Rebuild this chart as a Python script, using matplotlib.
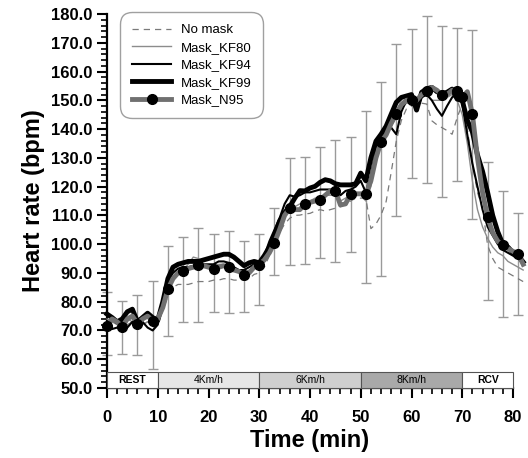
import matplotlib
matplotlib.use("Agg")
import matplotlib.pyplot as plt
from matplotlib.ticker import MultipleLocator, FormatStrFormatter
import numpy as np

plt.rcParams['font.family'] = ['Liberation Sans', 'DejaVu Sans']

time = list(range(0, 83))

no_mask = [74, 73, 72.5, 71, 72, 73, 71, 72, 73, 72, 73, 77, 82, 85, 86, 86, 86, 86.5, 87, 87,
           87, 87.5, 87.5, 88, 88, 87.5, 87.5, 87.5, 88, 89.5, 90, 92, 96, 100, 104, 107, 109, 110, 110.1, 110.5,
           110.7, 111.5, 112, 111.5, 112, 112.5, 113, 114, 115, 116, 116, 116, 105.4, 107, 110.1, 114.8, 125, 135.8, 143, 147,
           148, 148.5, 149, 148.7, 142.9, 141.5, 140.5, 139.5, 138.2, 144, 148.7, 140, 128, 118, 112.5, 99.6, 95, 92, 91, 90,
           89, 88, 87]

kf80 = [74, 73, 72, 71, 74, 73, 71, 72, 73, 74, 74, 79, 85, 88, 90, 91, 93, 95.5, 95, 93,
        92, 92, 93, 93, 92, 91, 90, 90, 91, 92, 92, 94, 98, 102, 107, 111, 113, 113, 114, 114,
        115, 116, 116, 117, 117, 117, 115, 116, 117, 118, 117, 115, 120, 130, 135, 138, 141, 144, 147, 149,
        149, 150, 151, 152, 150, 150, 150, 151, 152, 150, 145, 135, 122, 112, 106, 102, 99, 97, 96, 94,
        93, 92, 91]

kf94 = [73, 70.5, 71, 73, 71, 73, 74, 73, 71, 70, 72, 80, 87, 90, 91.5, 92, 92, 92.5, 93, 93,
        93, 93, 94, 94, 93.5, 92, 91, 91, 92, 93, 93, 96, 101, 105, 109, 114, 117, 116.5, 117, 118,
        118, 118.5, 119, 119, 119, 118.5, 117, 118.5, 119, 120, 122, 118, 124, 134, 137, 139.3, 140.5, 138.2, 146, 150,
        151, 146.4, 151, 152, 150, 147, 144.6, 148, 151, 152.5, 149, 138, 128, 120, 112, 106, 103, 100, 98, 97,
        96, 95, 94]

kf99 = [75.7, 74.5, 73, 74, 76.5, 77.4, 73, 74.5, 76, 74.5, 73.5, 80, 88, 92, 93, 93.5, 94, 94, 94, 94.5,
        95, 95.5, 96, 96.5, 96.5, 95.5, 94, 92.5, 93.5, 94, 93.5, 96, 99, 103, 108, 111, 113, 116, 118.6, 118.5,
        119.5, 120.1, 121.5, 122.4, 122, 121, 120.6, 120.6, 120.6, 121, 124.7, 122, 130, 135.8, 138.2, 141, 145.2, 149.3, 151, 151.5,
        152, 146.6, 152.8, 154, 154.5, 153, 152.2, 152.8, 153.9, 150.4, 150, 143, 139, 131, 125.3, 118, 110, 104.3, 100, 99,
        97, 96, 93.8]

n95 = [71.6, 74, 73, 71.3, 74, 75, 72.4, 74, 75, 73.4, 74, 78, 84.4, 88, 90, 90.6, 91.5, 92, 92.6, 92.5,
       92, 91.4, 92, 92.5, 92.0, 91, 90.5, 89.3, 90, 92, 92.9, 94.5, 97, 100.5, 105, 110, 112.5, 112, 112, 113.9,
       114.5, 115, 115.4, 117, 118.5, 118.6, 113.6, 114, 117.4, 117.5, 117.5, 117.4, 122, 130, 135.5, 138, 142, 145.4, 148.5, 150,
       150.1, 150, 152, 153.1, 154.5, 153.5, 151.8, 152, 153.5, 153.4, 151, 153, 145.2, 130, 118, 109.3, 104, 101, 99.6, 98.5,
       97.5, 96.7, 93]
n95_marker_idx = [0, 3, 6, 9, 12, 15, 18, 21, 24, 27, 30, 33, 36, 39, 42, 45, 48, 51, 54, 57, 60, 63, 66, 69, 70, 72, 75, 78, 81]

err_time = [0, 3, 6, 9, 12, 15, 18, 21, 24, 27, 30, 33, 36, 39, 42, 45, 48, 51, 54, 57, 60, 63, 66, 69, 72, 75, 78, 81]
err_top = [83.3, 80.1, 82.5, 87.1, 99.4, 102.6, 105.5, 103.4, 104.5, 101.2, 103.7, 112.6, 130.1, 130.4, 133.8, 136.3, 137.2, 146.2,
           156.4, 169.7, 174.7, 179.4, 175.8, 175.3, 174.6, 128.4, 118.6, 111.0]
err_bot = [61.6, 61.9, 61.5, 56.7, 68.2, 73.0, 73.0, 76.3, 75.9, 76.3, 78.9, 89.3, 92.8, 93.1, 95.1, 93.8, 97.3, 86.5,
           88.9, 109.9, 123.0, 121.3, 116.5, 121.8, 108.6, 80.6, 74.8, 75.5]

phase_labels = ['REST', '4Km/h', '6Km/h', '8Km/h', 'RCV']
phase_start = [0, 10, 30, 50, 70]
phase_end = [10, 30, 50, 70, 80]
phase_colors = ['#ffffff', '#e6e6e6', '#cfcfcf', '#a9a9a9', '#ffffff']
phase_bold = [True, False, False, False, True]

fig = plt.figure(figsize=(5.28, 4.58), dpi=100)
ax = fig.add_axes([107/528, 1 - 388/458, 406/528, 374/458])

# error bars
err_mid = [(a + b) / 2 for a, b in zip(err_top, err_bot)]
err_half = [(a - b) / 2 for a, b in zip(err_top, err_bot)]
eb = ax.errorbar(err_time, err_mid, yerr=err_half, fmt='none', ecolor='#9a9a9a',
                 elinewidth=1.0, capsize=3.5, capthick=1.0, zorder=1)
for art in eb.get_children():
    art.set_clip_on(False)

ax.plot(time, no_mask, color='#7a7a7a', lw=0.9, ls=(0, (5, 4)), label='No mask', zorder=2, clip_on=False)
ax.plot(time, kf80, color='#8c8c8c', lw=1.0, label='Mask_KF80', zorder=3, clip_on=False)
ax.plot(time, kf94, color='#000000', lw=1.5, label='Mask_KF94', zorder=4, clip_on=False)
ax.plot(time, kf99, color='#000000', lw=3.5, label='Mask_KF99', zorder=5, clip_on=False)
ax.plot(time, n95, color='#707070', lw=3.5, marker='o', markersize=7, markerfacecolor='black',
        markeredgecolor='black', markevery=n95_marker_idx, label='Mask_N95', zorder=6, clip_on=False)

# phase band
band_top = 55.5
for s, e, c, lab, b in zip(phase_start, phase_end, phase_colors, phase_labels, phase_bold):
    ax.add_patch(plt.Rectangle((s, 50), e - s, band_top - 50, facecolor=c, edgecolor='#555555',
                               lw=0.8, zorder=7, clip_on=False))
    ax.text((s + e) / 2, (50 + band_top) / 2 + 0.2, lab, ha='center', va='center',
            fontsize=7.5, fontweight='bold' if b else 'normal', zorder=8)

ax.set_xlim(0, 80)
ax.set_ylim(50, 180)
ax.spines['top'].set_visible(False)
ax.spines['right'].set_visible(False)
ax.spines['left'].set_linewidth(1.6)
ax.spines['bottom'].set_linewidth(1.6)
ax.xaxis.set_major_locator(MultipleLocator(10))
ax.xaxis.set_minor_locator(MultipleLocator(2))
ax.yaxis.set_major_locator(MultipleLocator(10))
ax.yaxis.set_minor_locator(MultipleLocator(2))
ax.yaxis.set_major_formatter(FormatStrFormatter('%.1f'))
ax.tick_params(axis='both', which='major', direction='out', length=7, width=1.5,
               labelsize=12)
ax.tick_params(axis='both', which='minor', direction='out', length=4, width=1.2)
ax.tick_params(axis='x', which='major', pad=9)
for lbl in ax.get_xticklabels() + ax.get_yticklabels():
    lbl.set_fontweight('bold')

ax.set_xlabel('Time (min)', fontsize=17, fontweight='bold', labelpad=3)
ax.set_ylabel('Heart rate (bpm)', fontsize=17, fontweight='bold', labelpad=4)

leg = ax.legend(loc='upper left', bbox_to_anchor=(13/406, 1.005), borderaxespad=0,
                fontsize=9.5, frameon=True,
                fancybox=True, edgecolor='#888888', handlelength=3.0, labelspacing=0.4,
                borderpad=0.9, handletextpad=0.7)
leg.get_frame().set_linewidth(1.0)
leg.get_frame().set_boxstyle('round', pad=0, rounding_size=0.9)
leg.set_zorder(10)

fig.savefig('out.png', dpi=100)
